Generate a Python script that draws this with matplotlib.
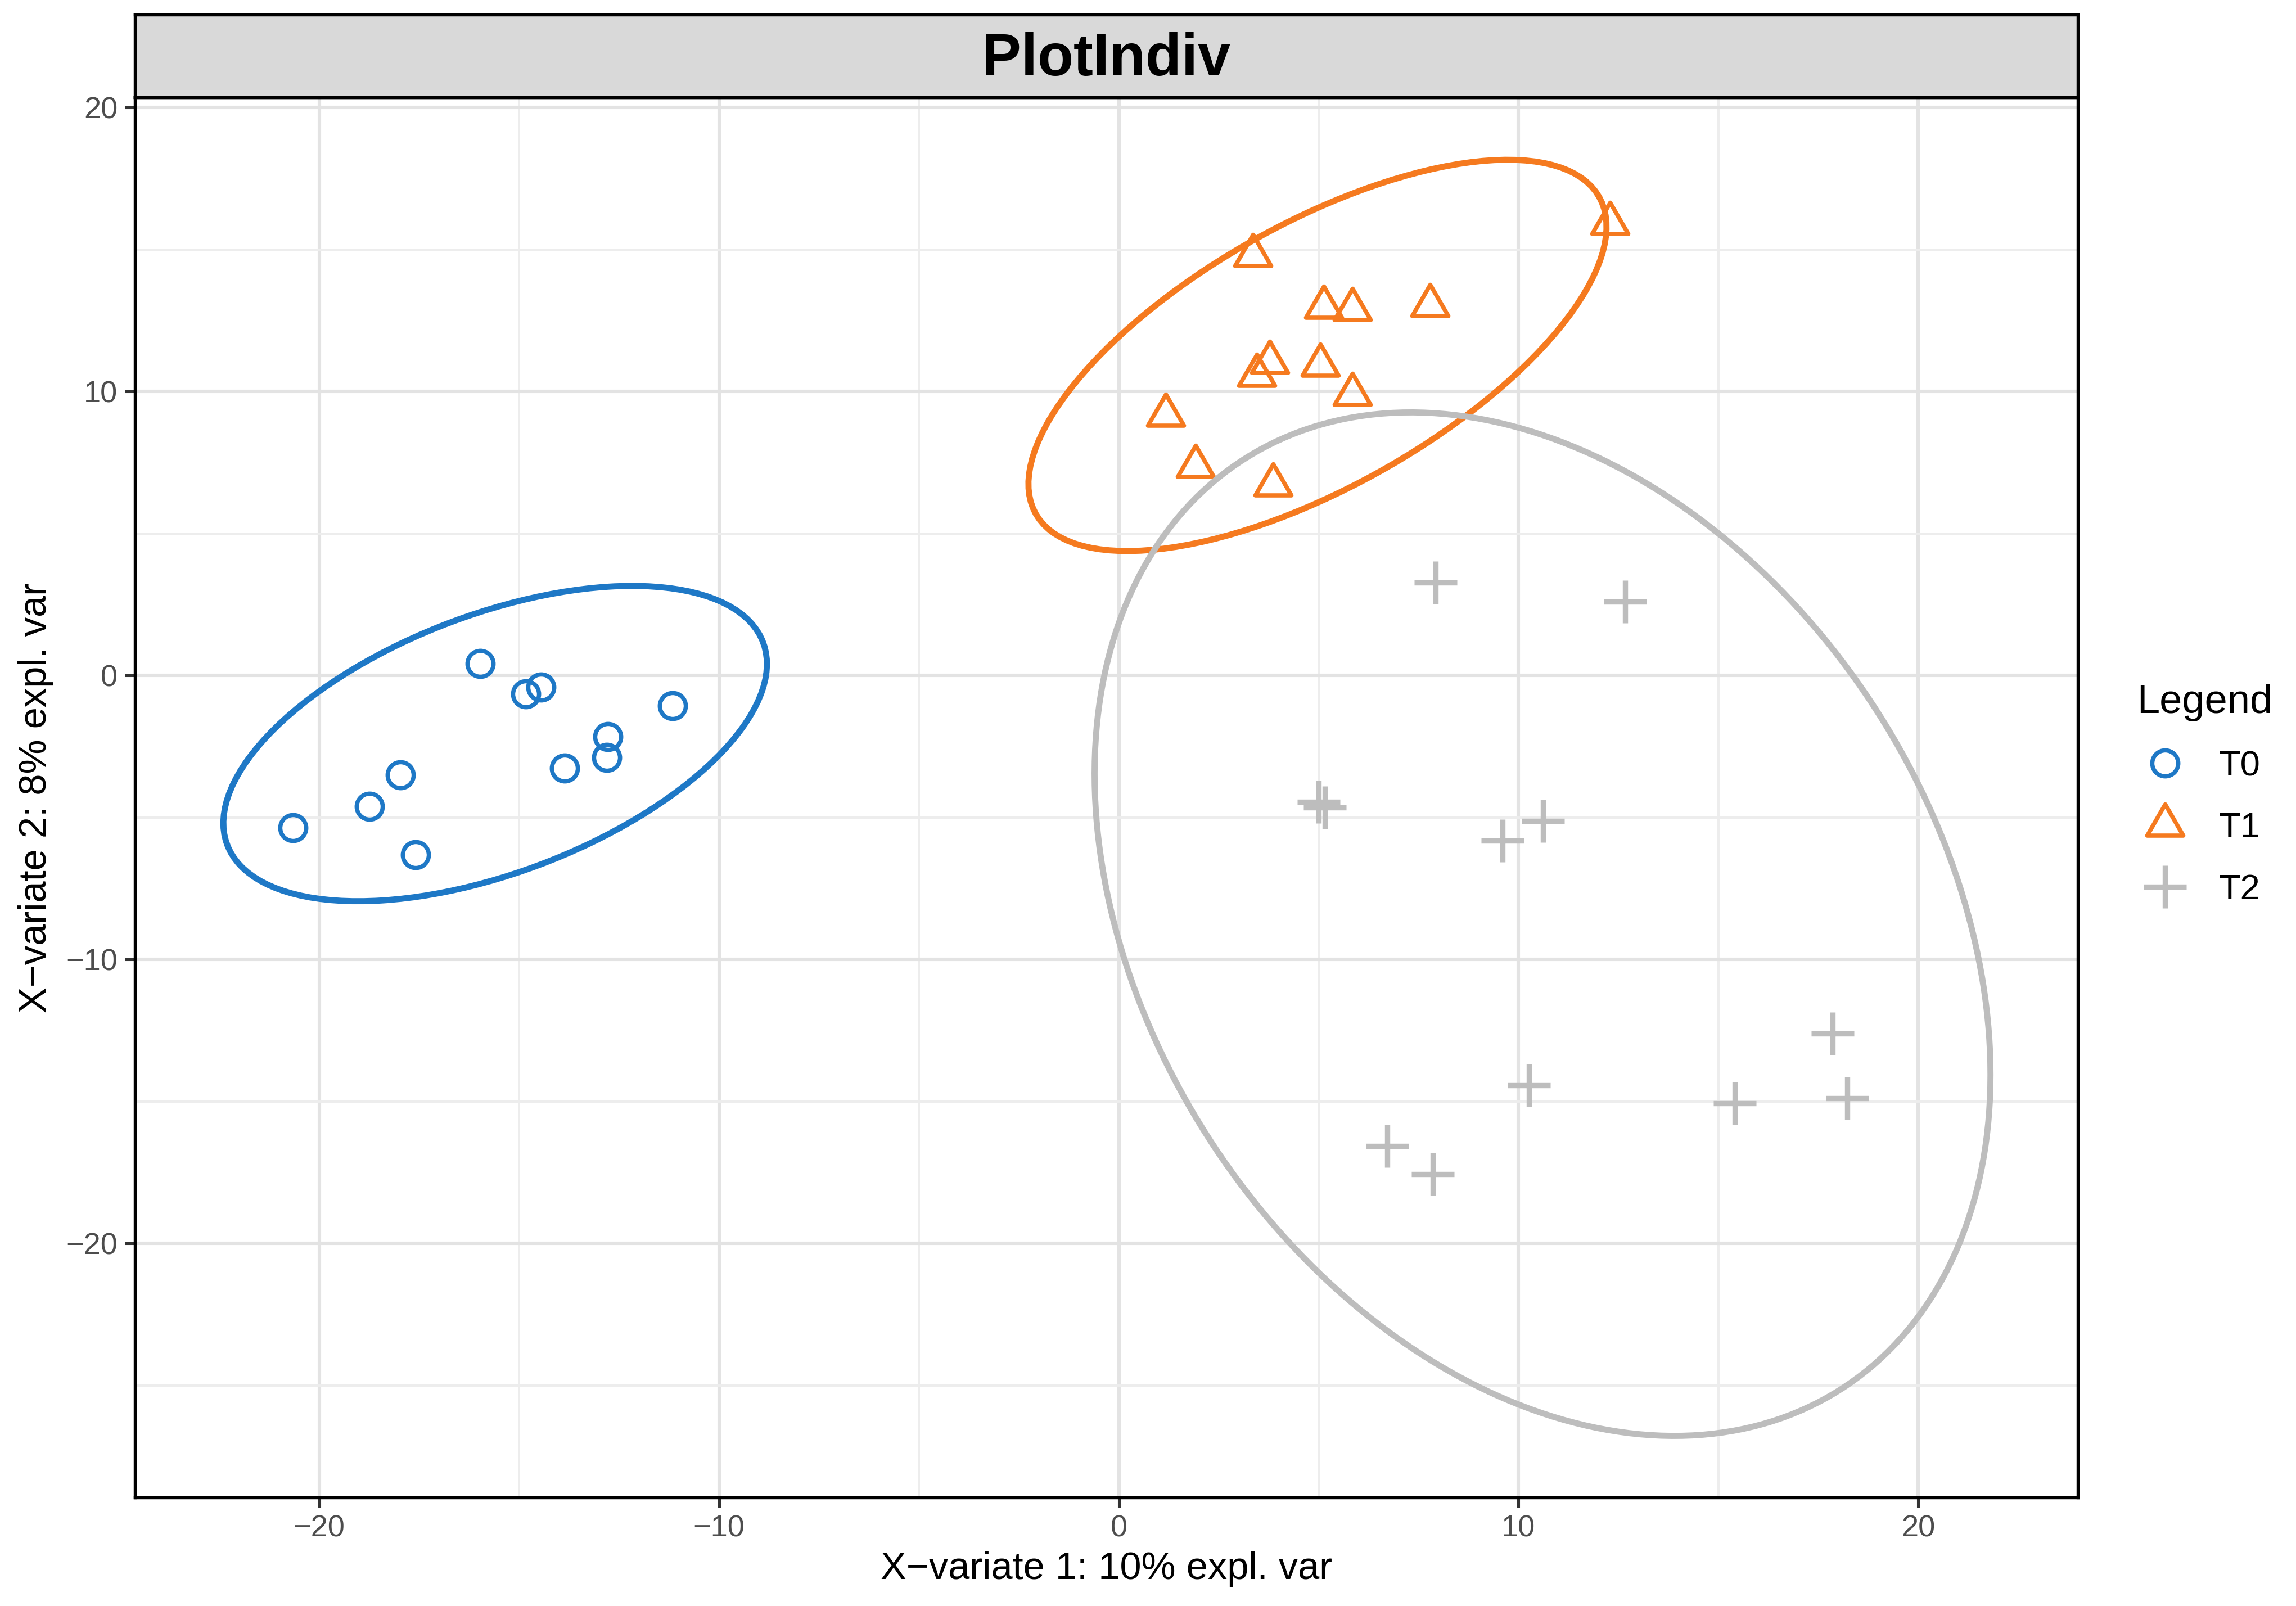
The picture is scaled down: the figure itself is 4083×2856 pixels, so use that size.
import numpy as np
import matplotlib
matplotlib.use("Agg")
import matplotlib.pyplot as plt
from matplotlib.patches import Ellipse
from matplotlib.lines import Line2D
from matplotlib.path import Path

plt.rcParams["font.family"] = ["Liberation Sans", "DejaVu Sans"]

# ---- data ----
groups = ["T0", "T1", "T2"]
colors = ["#1E78C6", "#F57A1F", "#BDBDBD"]

t0_x = [-20.66, -18.75, -17.97, -17.59, -15.97, -14.84, -14.45, -13.86, -12.78, -12.81, -11.16]
t0_y = [-5.36, -4.61, -3.51, -6.32, 0.41, -0.66, -0.41, -3.26, -2.15, -2.89, -1.07]

t1_x = [3.36, 12.29, 5.13, 5.85, 7.78, 3.78, 3.45, 5.04, 5.84, 1.18, 1.92, 3.86]
t1_y = [14.80, 15.92, 12.97, 12.90, 13.03, 11.03, 10.58, 10.94, 9.90, 9.18, 7.37, 6.71]

t2_x = [7.92, 12.66, 5.00, 5.15, 9.60, 10.61, 17.85, 10.26, 15.41, 18.22, 6.71, 7.86]
t2_y = [3.27, 2.60, -4.45, -4.65, -5.82, -5.12, -12.62, -14.43, -15.07, -14.88, -16.58, -17.57]

# confidence ellipses: centre, full width, full height, angle (deg)
ell_center = [(-15.6, -2.4), (4.97, 11.27), (10.6, -8.76)]
ell_width = [15.37, 18.19, 36.94]
ell_height = [8.48, 8.25, 20.9]
ell_angle = [34.0, 42.9, 105.4]

x_major = [-20, -10, 0, 10, 20]
y_major = [-20, -10, 0, 10, 20]
x_minor = [-15, -5, 5, 15]
y_minor = [-25, -15, -5, 5, 15]

title = "PlotIndiv"
xlabel = "X\u2212variate 1: 10% expl. var"
ylabel = "X\u2212variate 2: 8% expl. var"

# triangle with its centroid on the point (like R pch 2)
tri = Path([(0, 1), (-0.866, -0.5), (0.866, -0.5), (0, 1)], closed=True)
markers = ["o", tri, "+"]
msizes = [12.8, 20.5, 21]
mews = [2.1, 2.1, 2.6]

W, H, DPI = 4083, 2856, 260
fig = plt.figure(figsize=(W / DPI, H / DPI), dpi=DPI)

left, right = 240 / W, 3695 / W
bottom, top = 1 - 2663 / H, 1 - 173 / H
ax = fig.add_axes([left, bottom, right - left, top - bottom])
strip = fig.add_axes([left, top, right - left, (173 - 26) / H])

ax.set_xlim(-24.61, 23.99)
ax.set_ylim(-28.95, 20.36)

ax.set_xticks(x_major)
ax.set_yticks(y_major)
ax.set_xticks(x_minor, minor=True)
ax.set_yticks(y_minor, minor=True)
ax.set_xticklabels([str(v).replace("-", "\u2212") for v in x_major])
ax.set_yticklabels([str(v).replace("-", "\u2212") for v in y_major])
ax.grid(which="major", color="#E3E3E3", lw=1.7, zorder=0)
ax.grid(which="minor", color="#EDEDED", lw=1.1, zorder=0)
ax.set_axisbelow(True)
ax.tick_params(which="major", length=5, width=1.4, color="#333333",
               labelsize=15, labelcolor="#4D4D4D", pad=3.5)
ax.tick_params(which="minor", length=0)
for s in ax.spines.values():
    s.set_linewidth(1.5)
    s.set_color("black")

xs = [t0_x, t1_x, t2_x]
ys = [t0_y, t1_y, t2_y]
for i, g in enumerate(groups):
    ax.plot(xs[i], ys[i], linestyle="none", marker=markers[i], ms=msizes[i],
            mfc="none", mec=colors[i], mew=mews[i], zorder=3)
    ax.add_patch(Ellipse(ell_center[i], ell_width[i], ell_height[i], angle=ell_angle[i],
                         fill=False, edgecolor=colors[i], lw=3.0, zorder=4))

ax.set_xlabel(xlabel, fontsize=19, labelpad=4)
ax.set_ylabel(ylabel, fontsize=19, labelpad=6)

strip.set_facecolor("#D9D9D9")
strip.set_xticks([])
strip.set_yticks([])
for s in strip.spines.values():
    s.set_linewidth(1.5)
    s.set_color("black")
strip.text(0.5, 0.45, title, transform=strip.transAxes, ha="center", va="center",
           fontsize=29, fontweight="bold")

handles = [Line2D([], [], linestyle="none", marker=markers[i], ms=msizes[i],
                  mfc="none", mec=colors[i], mew=mews[i]) for i in range(3)]
leg = fig.legend(handles, groups, title="Legend", loc="upper left",
                 bbox_to_anchor=(3800 / W, 1 - 1216 / H), frameon=False,
                 fontsize=17.5, title_fontsize=20, alignment="left",
                 handlelength=1.59, handletextpad=0.71, labelspacing=0.8,
                 borderpad=0, borderaxespad=0)

fig.savefig("out.png", dpi=DPI)
